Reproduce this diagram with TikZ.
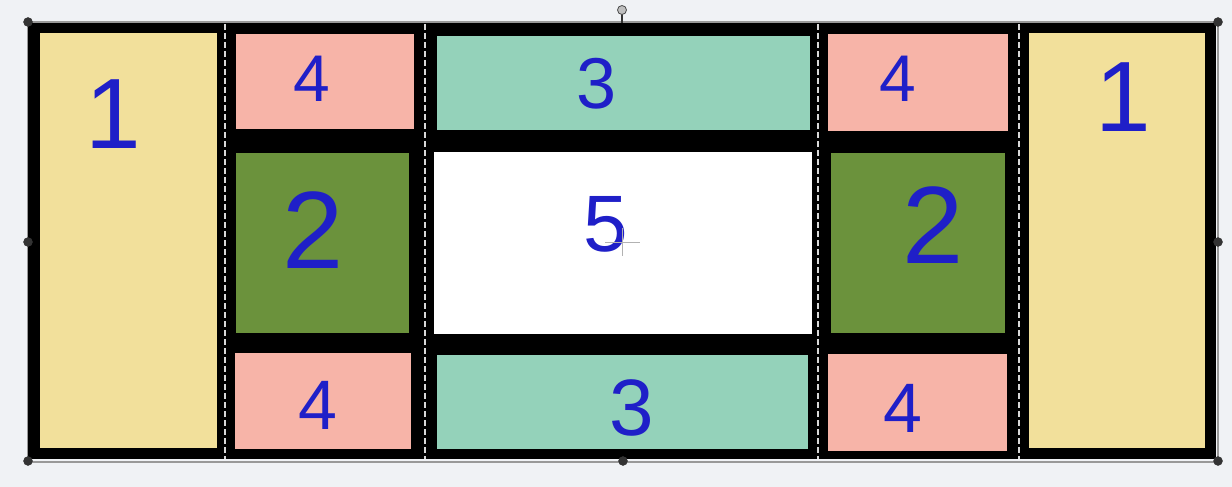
\documentclass[tikz,border=0pt]{standalone}
\usepackage{fontspec}
\setmainfont{Liberation Sans}
\usepackage{tikz}
\definecolor{canvas}{HTML}{F0F2F5}
\definecolor{sand}{HTML}{F2E09B}
\definecolor{salmon}{HTML}{F7B4A8}
\definecolor{mint}{HTML}{94D2BA}
\definecolor{moss}{HTML}{6B923C}
\definecolor{ink}{HTML}{1F1FC8}

\begin{document}
\begin{tikzpicture}[
  x=1pt, y=-1pt,
  digit/.style={text=ink, inner sep=0pt},
  seam/.style={draw=black!15, line width=1.2pt, dash pattern=on 6pt off 3pt},
  handle/.style={fill=black!80, draw=black!80}
]
\useasboundingbox (0,0) rectangle (1232,487);
\fill[canvas] (0,0) rectangle (1232,487);
% selection outline and frame
\draw[black!40, line width=1.5pt] (28,22) rectangle (1218,462);
\fill[black] (28,23) rectangle (1216,459);
% cells
\fill[sand] (40,33) rectangle (217,448);
\fill[sand] (1029,33) rectangle (1205,448);
\fill[salmon] (236,34) rectangle (414,129);
\fill[moss] (236,153) rectangle (409,333);
\fill[salmon] (235,353) rectangle (411,449);
\fill[mint] (437,36) rectangle (810,130);
\fill[white] (434,152) rectangle (812,334);
\fill[mint] (437,355) rectangle (808,449);
\fill[salmon] (828,34) rectangle (1008,131);
\fill[moss] (831,153) rectangle (1005,333);
\fill[salmon] (828,354) rectangle (1007,451);
\foreach \sx in {225,425,818,1019}
  \draw[seam] (\sx,24) -- (\sx,459);
% labels
\node[digit, font=\fontsize{100}{100}\selectfont] (oneL) at (113,114) {1};
\node[digit, font=\fontsize{100}{100}\selectfont] (oneR) at (1123,97) {1};
\node[digit, font=\fontsize{66}{66}\selectfont] (fourTL) at (312,79) {4};
\node[digit, font=\fontsize{72}{72}\selectfont] (threeT) at (597,84) {3};
\node[digit, font=\fontsize{66}{66}\selectfont] (fourTR) at (898,79) {4};
\node[digit, font=\fontsize{110}{110}\selectfont] (twoL) at (313,230) {2};
\node[digit, font=\fontsize{80}{80}\selectfont] (five) at (606,224) {5};
\node[digit, font=\fontsize{110}{110}\selectfont] (twoR) at (933,225) {2};
\node[digit, font=\fontsize{70}{70}\selectfont] (fourBL) at (318,405) {4};
\node[digit, font=\fontsize{80}{80}\selectfont] (threeB) at (632,408) {3};
\node[digit, font=\fontsize{70}{70}\selectfont] (fourBR) at (903,408) {4};
% cursor
\draw[black!30, line width=0.6pt] (605,242) -- (640,242) (622,228) -- (622,256);
% handles
\foreach \hx/\hy in {28/22,1218/22,28/242,1218/242,28/461,623/461,1218/461}
  \fill[handle] (\hx,\hy) circle (4.5pt);
\draw[black!80, line width=1.5pt] (622,14) -- (622,23);
\draw[black!70, fill=black!25, line width=0.8pt] (622,10) circle (4.5pt);
\end{tikzpicture}
\end{document}
